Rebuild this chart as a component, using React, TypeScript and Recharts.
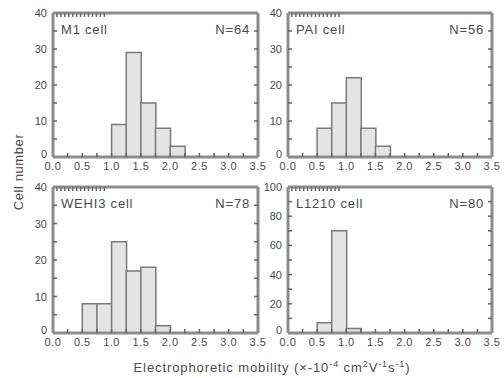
import { BarChart, Bar, XAxis, YAxis } from "recharts";

// histogram bins: 0.25 wide, 0.0 .. 3.5
const binCenters = [0.125, 0.375, 0.625, 0.875, 1.125, 1.375, 1.625, 1.875, 2.125, 2.375, 2.625, 2.875, 3.125, 3.375];
const m1Counts = [0, 0, 0, 0, 9, 29, 15, 8, 3, 0, 0, 0, 0, 0];
const paiCounts = [0, 0, 8, 15, 22, 8, 3, 0, 0, 0, 0, 0, 0, 0];
const wehi3Counts = [0, 0, 8, 8, 25, 17, 18, 2, 0, 0, 0, 0, 0, 0];
const l1210Counts = [0, 0, 7, 70, 3, 0, 0, 0, 0, 0, 0, 0, 0, 0];

const xTicks = [0, 0.25, 0.5, 0.75, 1, 1.25, 1.5, 1.75, 2, 2.25, 2.5, 2.75, 3, 3.25, 3.5];
const yTicks40 = [0, 5, 10, 15, 20, 25, 30, 35, 40];
const yTicks100 = [0, 10, 20, 30, 40, 50, 60, 70, 80, 90, 100];

const FONT = "'Liberation Sans', Arial, sans-serif";
const TEXT = "#4a4a4a";
const FRAME = "#8c8c8c";
const TICK = "#666";

const W = 504;
const H = 378;

const isMultiple = (v: number, step: number) => Math.abs(v / step - Math.round(v / step)) < 1e-6;

const BottomTick = (props: any) => {
  const { x, y, payload } = props;
  const v = payload.value;
  return (
    <g>
      {v > 0 && v < 3.5 && <line x1={x} x2={x} y1={y} y2={y - 4} stroke={TICK} strokeWidth={1.5} />}
      {isMultiple(v, 0.5) && (
        <text x={x} y={y + 13} textAnchor="middle" fontSize={11} letterSpacing={0.5} fontFamily={FONT} fill={TEXT}>
          {v.toFixed(1)}
        </text>
      )}
    </g>
  );
};

const TopTick = (props: any) => {
  const { x, y, payload } = props;
  const v = payload.value;
  if (v <= 0 || v >= 3.5) return <g />;
  return <line x1={x} x2={x} y1={y} y2={y + 4} stroke={TICK} strokeWidth={1.5} />;
};

const makeLeftTick = (labelStep: number, max: number) => (props: any) => {
  const { x, y, payload } = props;
  const v = payload.value;
  return (
    <g>
      {v > 0 && v < max && <line x1={x} x2={x + 4} y1={y} y2={y} stroke={TICK} strokeWidth={1.5} />}
      {isMultiple(v, labelStep) && (
        <text x={x - 6} y={v === 0 ? y + 1 : y + 4} textAnchor="end" fontSize={11} fontFamily={FONT} fill={TEXT}>
          {v}
        </text>
      )}
    </g>
  );
};

const makeRightTick = (max: number) => (props: any) => {
  const { x, y, payload } = props;
  const v = payload.value;
  if (v <= 0 || v >= max) return <g />;
  return <line x1={x} x2={x - 4} y1={y} y2={y} stroke={TICK} strokeWidth={1.5} />;
};

interface PanelProps {
  counts: number[];
  name: string;
  n: number;
  left: number;
  top: number;
  right: number;
  bottom: number;
  yMax: number;
  yTicks: number[];
  yLabelStep: number;
}

function Panel({ counts, name, n, left, top, right, bottom, yMax, yTicks, yLabelStep }: PanelProps) {
  const data = binCenters.map((bin, i) => ({ bin, count: counts[i] }));
  const axisLine = { stroke: FRAME, strokeWidth: 3 };
  const labelStyle = {
    position: "absolute" as const,
    top: top + 9,
    fontFamily: FONT,
    fontSize: 13,
    letterSpacing: 0.8,
    color: TEXT,
    lineHeight: "15px",
    whiteSpace: "nowrap" as const,
  };
  return (
    <>
      <div style={{ position: "absolute", left: 0, top: 0 }}>
        <BarChart
          width={W}
          height={H}
          data={data}
          margin={{ top: top - 1, left: left - 1, right: W - right - 1, bottom: H - bottom - 1 }}
          barCategoryGap={0}
          barGap={0}
        >
          <XAxis
            dataKey="bin"
            type="number"
            domain={[0, 3.5]}
            ticks={xTicks}
            interval={0}
            allowDataOverflow
            height={1}
            tickSize={0}
            tickMargin={0}
            tickLine={false}
            axisLine={axisLine}
            tick={<BottomTick />}
          />
          <XAxis
            xAxisId="top"
            orientation="top"
            type="number"
            domain={[0, 3.5]}
            ticks={xTicks}
            interval={0}
            allowDataOverflow
            height={1}
            tickSize={0}
            tickMargin={0}
            tickLine={false}
            axisLine={axisLine}
            tick={<TopTick />}
          />
          <YAxis
            type="number"
            domain={[0, yMax]}
            ticks={yTicks}
            interval={0}
            allowDataOverflow
            width={1}
            tickSize={0}
            tickMargin={0}
            tickLine={false}
            axisLine={axisLine}
            tick={makeLeftTick(yLabelStep, yMax)}
          />
          <YAxis
            yAxisId="right"
            orientation="right"
            type="number"
            domain={[0, yMax]}
            ticks={yTicks}
            interval={0}
            allowDataOverflow
            width={1}
            tickSize={0}
            tickMargin={0}
            tickLine={false}
            axisLine={axisLine}
            tick={makeRightTick(yMax)}
          />
          <Bar dataKey="count" fill="#e4e4e4" stroke="#7a7a7a" strokeWidth={1.5} isAnimationActive={false} />
        </BarChart>
      </div>
      <div style={{ ...labelStyle, left: left + 8 }}>{name}</div>
      <div style={{ ...labelStyle, left: right - 80, width: 72, textAlign: "right" }}>N={n}</div>
    </>
  );
}

export default function App() {
  return (
    <div style={{ position: "absolute", left: 0, top: 0, width: W, height: H, background: "#fff", overflow: "hidden" }}>
      <Panel counts={m1Counts} name="M1 cell" n={64} left={53} top={13} right={258} bottom={157} yMax={40} yTicks={yTicks40} yLabelStep={10} />
      <Panel counts={paiCounts} name="PAI cell" n={56} left={288} top={13} right={492} bottom={157} yMax={40} yTicks={yTicks40} yLabelStep={10} />
      <Panel counts={wehi3Counts} name="WEHI3 cell" n={78} left={53} top={187} right={258} bottom={333} yMax={40} yTicks={yTicks40} yLabelStep={10} />
      <Panel counts={l1210Counts} name="L1210 cell" n={80} left={288} top={187} right={492} bottom={333} yMax={100} yTicks={yTicks100} yLabelStep={20} />
      <div
        style={{
          position: "absolute",
          left: 18,
          top: 172,
          transform: "translate(-50%, -50%) rotate(-90deg)",
          fontFamily: FONT,
          fontSize: 13,
          letterSpacing: 0.6,
          color: TEXT,
          whiteSpace: "nowrap",
        }}
      >
        Cell number
      </div>
      <div
        style={{
          position: "absolute",
          left: 272,
          top: 367,
          transform: "translate(-50%, -50%)",
          fontFamily: FONT,
          fontSize: 13,
          letterSpacing: 0.9,
          color: TEXT,
          whiteSpace: "nowrap",
        }}
      >
        Electrophoretic mobility (×-10<sup style={{ fontSize: 9 }}>-4</sup> cm<sup style={{ fontSize: 9 }}>2</sup>V
        <sup style={{ fontSize: 9 }}>-1</sup>s<sup style={{ fontSize: 9 }}>-1</sup>)
      </div>
    </div>
  );
}
